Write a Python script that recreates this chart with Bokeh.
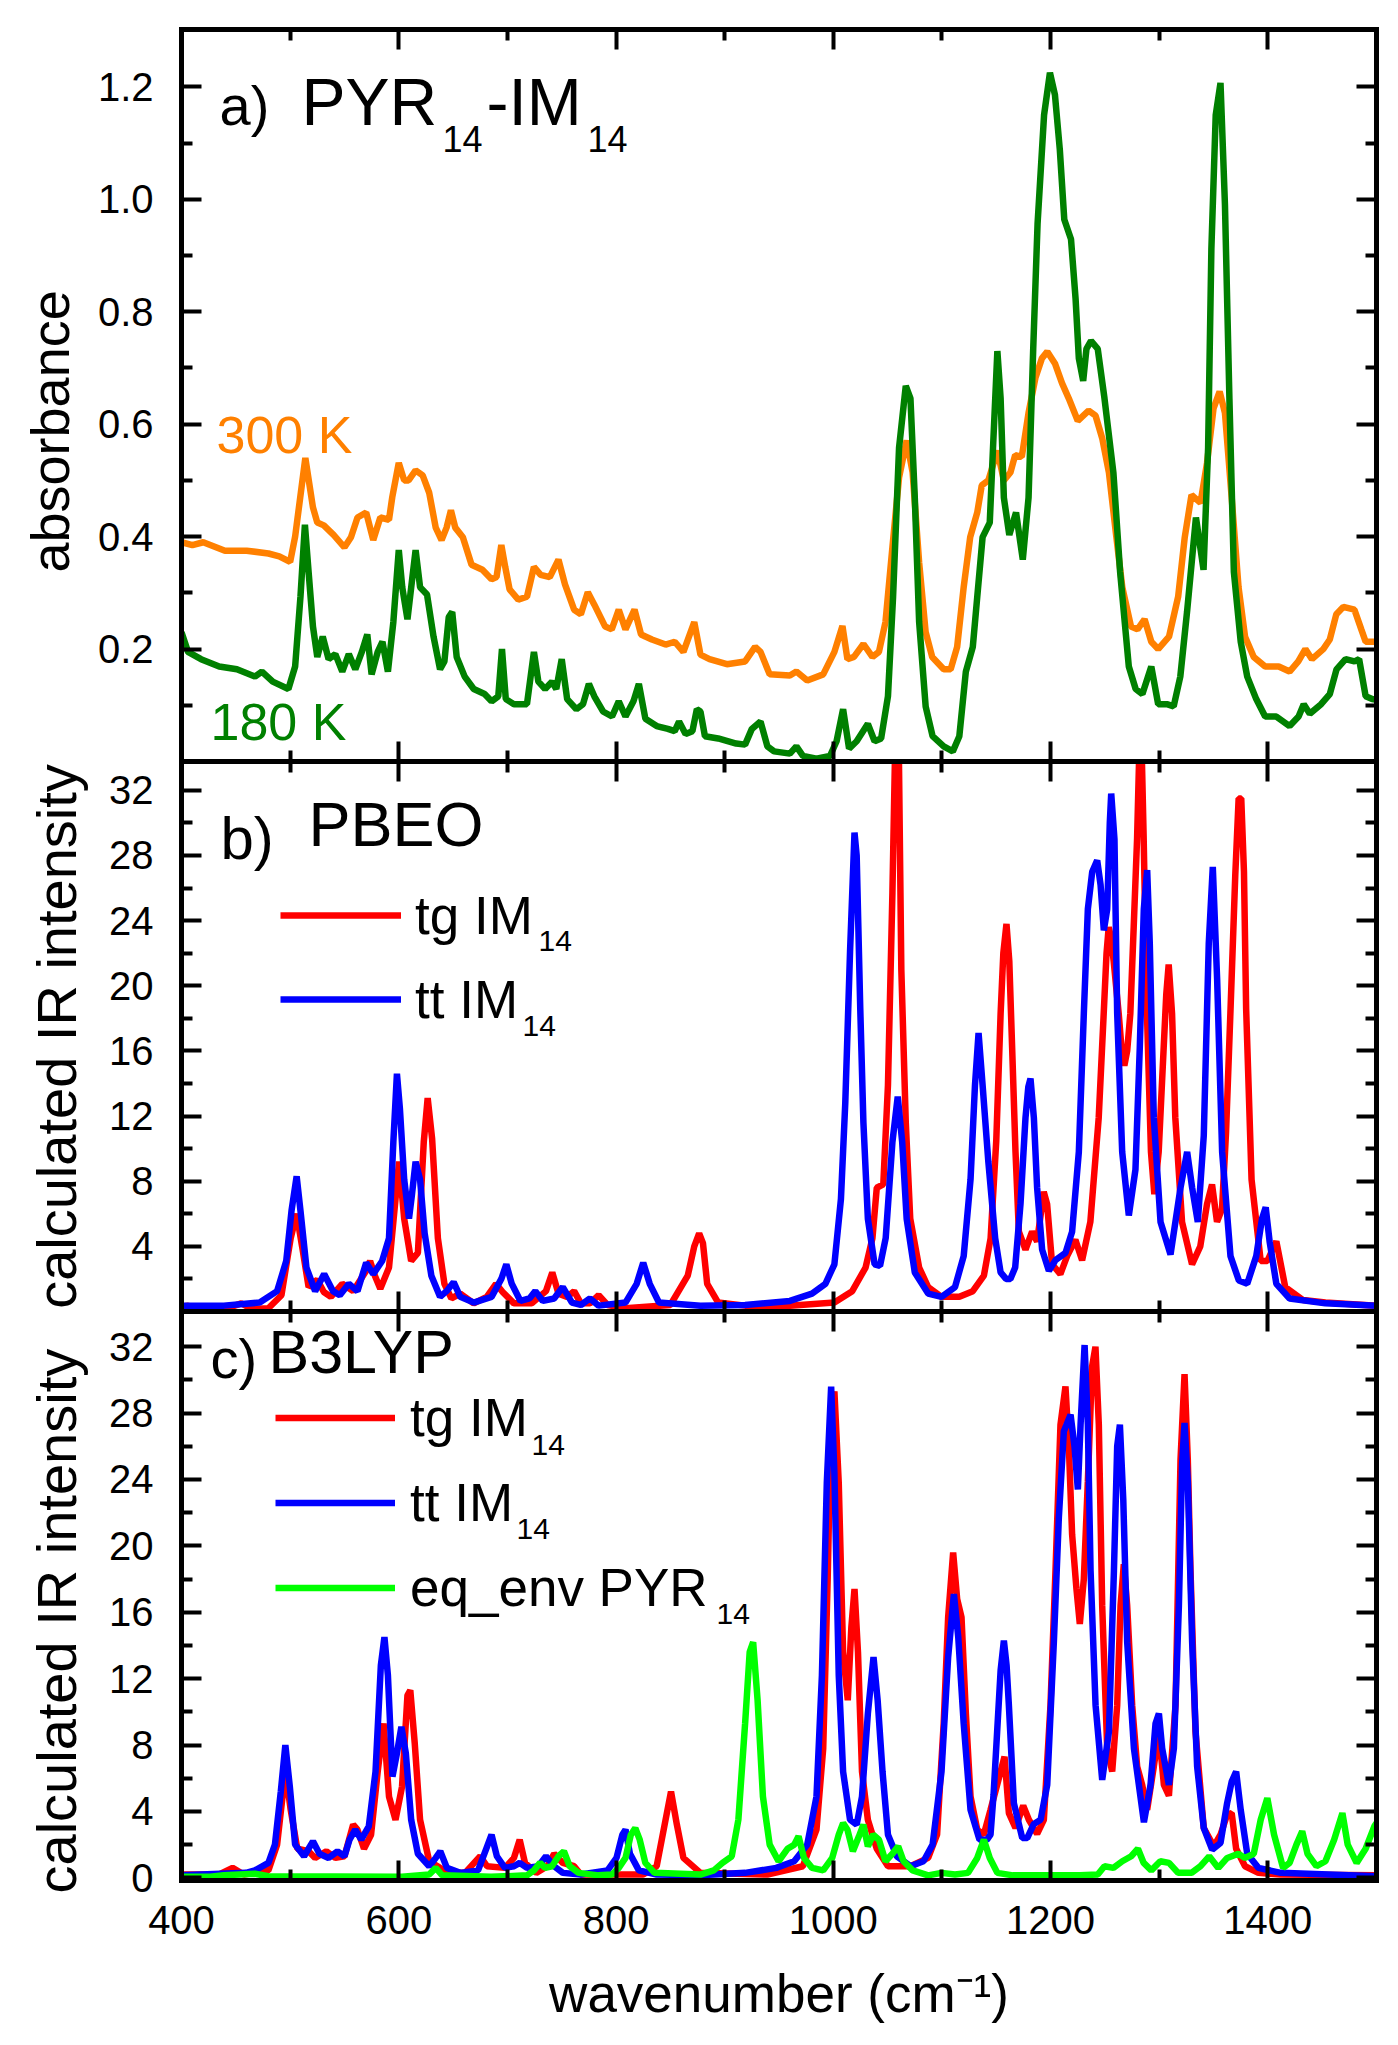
import numpy as np
from bokeh.plotting import figure
from bokeh.layouts import column
from bokeh.models import (Range1d, LinearAxis, FixedTicker, PrintfTickFormatter,
                          CustomJSTickFormatter, Label, Legend, LegendItem, Title)
from bokeh.embed import file_html
from bokeh.resources import INLINE

# ---------------------------------------------------------------- data
# panel a : measured absorbance
wn_300K = [400, 410, 420, 440, 460, 480, 490, 500, 504.6, 514, 521, 525, 531, 540, 550, 556, 562, 570,
           576.5, 583, 591, 594, 600, 605, 609, 615.5, 622, 628, 634, 639.4, 644, 648, 652, 659, 667,
           677, 685.4, 690, 694.4, 698, 702, 710, 718, 724.4, 730.6, 739, 747, 753, 761.4, 767.6, 774,
           780, 790, 796, 802.5, 808.7, 817, 823, 833, 845.6, 854, 862, 872, 877.7, 886, 902, 918.8, 928,
           933, 941.4, 960, 966, 976, 990.7, 1001, 1008.4, 1013, 1019, 1027.7, 1036, 1042, 1048, 1054.4,
           1060.5, 1067.5, 1073, 1079, 1085, 1091, 1101.6, 1108, 1114, 1120, 1126, 1132.5, 1136.6,
           1142.7, 1151, 1157, 1163, 1167.4, 1173.5, 1179.7, 1186, 1192, 1197, 1204, 1210.5, 1216.7,
           1225, 1235, 1241.4, 1247.5, 1253.7, 1260, 1266, 1274, 1280, 1286.5, 1292.7, 1299, 1309,
           1317.4, 1323.5, 1329.7, 1338, 1344, 1350, 1355.6, 1360.5, 1366.7, 1373, 1379, 1387, 1397.5,
           1410, 1420, 1428, 1434.5, 1440.6, 1451, 1457, 1463, 1469.4, 1479.7, 1486, 1490, 1500]
abs_300K = [.39, .385, .39, .375, .375, .37, .365, .355, .40, .54, .452, .425, .42, .403, .381, .399, .434, .443,
            .394, .434, .43, .47, .531, .50, .50, .518, .509, .478, .416, .394, .416, .447, .416, .399, .35,
            .341, .324, .328, .385, .346, .306, .288, .293, .346, .332, .328, .359, .315, .27, .262, .301,
            .279, .24, .235, .27, .235, .27, .226, .217, .208, .213, .195, .248, .19, .182, .173, .178, .204,
            .195, .155, .153, .16, .144, .155, .195, .241, .182, .186, .209, .186, .195, .248, .381,
            .505, .571, .514, .354, .23, .186, .164, .164, .204, .31, .399, .443, .491,
            .5, .553, .50, .514, .545, .542, .62, .682, .717, .729, .708, .673, .646,
            .606, .624, .615, .575, .514, .408, .31, .24, .235, .253, .213, .2, .222,
            .293, .399, .474, .46, .531, .628, .658, .62, .469, .31, .222, .186, .169,
            .169, .16, .178, .2, .182, .2, .217, .262, .275, .27, .235, .213, .213]

wn_180K = [400, 406, 418, 434.7, 451, 467.6, 474, 484, 498.4, 504.6, 509.5, 513.6, 517, 521, 525, 530, 535.4,
           541.6, 548, 554, 560, 566, 571, 575, 580.6, 585, 590, 595, 600, 603.2, 608, 612, 615.5, 619.6,
           626, 632, 638, 642, 646, 649.2, 653.3, 660.7, 669, 679, 685.4, 691.6, 695, 698.5, 706, 718,
           724.4, 728.5, 734.7, 741, 745, 750, 755, 763.5, 769.6, 775, 780, 788, 796.3, 802.5, 808.7, 816,
           821, 827, 837.4, 847.7, 854, 858, 864, 870.3, 874.4, 877.7, 881.8, 894, 910.6, 918.8, 925, 933,
           939.3, 945.5, 960, 966, 972, 984.5, 997, 1003, 1009, 1014.5, 1021.5, 1031.8, 1038, 1044,
           1050.3, 1055, 1060.5, 1066.7, 1071, 1075, 1079, 1085, 1091.4, 1101.6, 1110, 1116, 1122,
           1128.4, 1132.5, 1137.4, 1144, 1147, 1151, 1154, 1157, 1162, 1168.2, 1174.4, 1179.7, 1184,
           1188, 1194, 1199.4, 1204, 1208.5, 1212.6, 1218.8, 1223, 1226, 1230, 1233, 1237.2, 1243.4,
           1249.6, 1257.8, 1264, 1272, 1278.3, 1284.5, 1292.7, 1299, 1307, 1313.3, 1319.4, 1325.6,
           1333.8, 1340.8, 1345, 1348, 1352, 1356.4, 1360.5, 1364.6, 1368.7, 1375, 1381, 1389.3,
           1397.5, 1407.8, 1420, 1428.3, 1433, 1438.6, 1449, 1457, 1463.2, 1471.5, 1479.7, 1484, 1490,
           1496, 1500]
abs_180K = [.23, .195, .182, .169, .164, .151, .16, .142, .129, .169, .293, .421, .337, .24, .186, .222, .182,
            .191, .16, .191, .164, .195, .226, .155, .195, .213, .16, .248, .376, .31, .253, .319, .376, .31,
            .297, .222, .164, .178, .257, .266, .186, .151, .129, .12, .107, .116, .2, .111, .102, .102,
            .195, .142, .129, .142, .129, .182, .111, .093, .102, .138, .116, .089, .08, .107, .08, .107,
            .138, .076, .063, .058, .054, .071, .049, .054, .093, .089, .045, .041, .032, .03, .058, .071,
            .027, .018, .014, .027, .01, .005, .01, .036, .093, .023, .036, .067, .036, .041,
            .116, .293, .558, .668, .646, .469, .248, .098, .045, .027, .018, .045, .16,
            .204, .293, .399, .425, .558, .73, .646, .469, .403, .443, .359, .469, .734,
            .956, 1.15, 1.225, 1.186, 1.088, .964, .929, .823, .717, .677, .734, .748, .734,
            .646, .514, .337, .169, .129, .12, .169, .102, .102, .098, .151, .266,
            .434, .341, .558, .911, 1.15, 1.207, .99, .646, .337, .213, .151, .111,
            .08, .08, .063, .08, .102, .085, .102, .12, .164, .182, .178, .182, .116,
            .111, .11]

# panel b : PBEO calculated spectra
wn_pbeo_tg = [400, 406, 415, 440, 455, 465, 480, 492, 500.5, 506, 511, 517, 525, 531, 537.5, 548, 558, 570,
              573.6, 578, 583, 591, 597, 600.3, 605, 611.4, 617.6, 623, 626.6, 630.7, 636, 642, 648.4,
              656.6, 669, 681, 689.5, 695.6, 706, 722.4, 735.5, 741.3, 747, 755, 761.4, 767.6, 776, 784,
              792.2, 808.7, 850, 866, 872, 876.5, 880, 883.9, 894, 918.8, 960, 1001, 1017.4, 1029.7,
              1036, 1040, 1046, 1050.3, 1054.4, 1057.3, 1059.7, 1062.6, 1066.7, 1070.8, 1079, 1087.3,
              1099.6, 1116, 1128.4, 1138.6, 1144.8,
              1150, 1154, 1156.5, 1159.4, 1162, 1164.6, 1167.7, 1170.8, 1176.9, 1183,
              1187.6, 1191, 1193.7, 1196.8, 1201.4, 1209, 1215.2, 1222.8, 1229, 1236.6,
              1244.3, 1248.9, 1251.5, 1253.5, 1255.5, 1258.1, 1262.7, 1265.5, 1267.9, 1270.5,
              1273.4, 1276.5, 1279.6, 1281.5, 1282.6, 1284, 1285.7, 1288.7, 1292.4, 1295.5,
              1299.5, 1304.1, 1306.5, 1308.7, 1311.8, 1314.8, 1321, 1330.2, 1337.8, 1344,
              1348.6, 1353.2, 1357.8, 1361.5, 1365.5, 1370, 1373.1, 1375.5, 1378, 1380,
              1385, 1393.4, 1399.5, 1407.8, 1416, 1432.4, 1453, 1500]
int_pbeo_tg = [.3, .35, .15, .15, .5, .15, .2, 1.0, 4.5, 6.0, 4.0, 1.5, 1.95, 1.2, .9, 1.7, 1.25, 2.5,
               3.1, 2.2, 1.4, 2.7, 6.9, 9.2, 5.7, 3.1, 3.6, 10.4, 13.1, 10.6, 4.5, 1.7, .8,
               1.1, .5, .9, 1.7, 1.2, .5, .5, 1.25, 2.4, 1.1, .9, 1.25, .5, .5, 1.0,
               .4, .2, .4, 2.2, 4.0, 4.8, 4.2, 1.7, .55, .36, .36, .55, 1.25, 2.7,
               4.5, 7.6, 7.8, 13.9, 25.7, 36, 38, 21, 11.6, 5.7, 2.7, 1.5,
               .9, .9, 1.25, 2.2, 4.5,
               10.5, 18.3, 22, 23.8, 21.5, 16.2, 9.8, 4.9, 3.8, 4.9,
               4.3, 6.0, 7.35, 6.6, 2.9, 2.3, 3.4, 4.4, 3.15, 5.5,
               11.9, 18.3, 22, 23.6, 23, 21.5, 18.3, 16, 15.1, 16,
               18.3, 23.6, 29, 34, 36, 34, 29, 18.3, 9.8, 7.2,
               9.8, 16.2, 19.5, 21.3, 18.3, 11.9, 5.5, 2.9, 4.0, 6.6,
               7.8, 5.5, 6.3, 11, 18.3, 26.8, 31.5, 31.5, 27, 18.6,
               8.1, 3.1, 3.1, 4.3, 1.5, .7, .55, .36]

wn_pbeo_tt = [400, 439, 472, 488, 496.4, 501.3, 506, 509.5, 515, 523, 531.3, 539.5, 545.7, 554, 562, 570,
              576.5, 584.7, 591, 595, 598.3, 601, 605, 609.4, 612, 615.5, 619.6, 623.8, 630, 638, 644,
              650.5, 656.6, 669, 685.4, 694.4, 699, 704, 712, 720.3, 725.7, 732.6, 743, 751, 759.4,
              767.6, 776, 784, 808.7, 819, 825, 831, 839.5, 877.7, 918.8, 960, 980.4, 992.7, 1001, 1007,
              1011, 1015.4, 1019.5, 1021.5, 1024.8, 1027.7, 1031.8, 1038, 1043, 1048.2, 1054.4, 1059.3,
              1063.4, 1067.5, 1075, 1087.3, 1099.6, 1112, 1120, 1126.3, 1130.4, 1133.7, 1137.4, 1142.7,
              1149, 1154, 1159, 1163, 1167.4, 1172.3, 1176.9, 1179.5, 1181.5, 1184.6,
              1187.6, 1192.2, 1198.4, 1204.5, 1213.7, 1219.8, 1226, 1230.6, 1234.3, 1238.3,
              1242.9, 1246, 1249, 1252.1, 1254.5, 1255.8, 1258.8, 1261.3, 1265.9, 1272,
              1278.1, 1282.1, 1285.8, 1288.9, 1291.3, 1295, 1301.2, 1310.4, 1319.6, 1325.7,
              1330.3, 1335.5, 1341, 1345.6, 1349.3, 1353.3, 1357.9, 1365.6, 1373.3, 1381,
              1389.3, 1394.6, 1398, 1401.6, 1407.8, 1420, 1453, 1500]
int_pbeo_tt = [.36, .36, .55, 1.25, 3.1, 6.2, 8.3, 6.2, 2.7, 1.25, 2.3, 1.25, 1.0, 1.7, 1.25, 3.0,
               2.3, 3.1, 4.5, 10.4, 14.6, 12.5, 8.1, 5.7, 7.1, 9.2, 8.1, 4.8, 2.2, .9, 1.25,
               1.8, .9, .55, .9, 2.0, 2.9, 1.7, .65, .8, 1.25, .65, .8, 1.5, .55,
               .4, .8, .36, .55, 1.7, 3.0, 1.7, .55, .36, .4, .65, 1.1, 1.7, 2.9, 6.9,
               12.8, 22.1, 29.4, 28.0, 18.6, 11.6, 5.7, 2.9, 2.8, 4.5, 10.4, 13.2,
               10.4, 5.7, 2.4, 1.1, .9, 1.5, 3.4, 8.1, 13.9, 17.1, 13.9, 9.2,
               4.5, 2.4, 2.0, 2.0, 2.7, 6.6, 11.9, 13.8, 14.3, 11.9,
               7.6, 3.8, 2.5, 3.15, 3.6, 4.9, 9.8, 18.3, 24.7, 27.0,
               27.7, 26.2, 23.4, 24.7, 30, 31.8, 29.0, 18.3, 9.8, 5.9,
               8.7, 16.2, 24.7, 27.1, 22.6, 11.9, 5.5, 3.5, 7.6, 9.8,
               7.6, 5.5, 10.8, 22.6, 27.3, 20.4, 9.8, 3.4, 1.9, 1.7,
               3.4, 5.7, 6.4, 4.3, 1.7, .8, .5, .36]

# panel c : B3LYP calculated spectra
wn_b3_tg = [400, 434.7, 447, 457.3, 480, 488, 493, 496.4, 500.5, 506.6, 517, 523, 533.4, 541.6, 550, 558,
            562, 568, 574.5, 580.6, 586, 591, 597, 603, 608, 610.6, 614.7, 619.6, 628, 638, 648.4, 661,
            675, 681.3, 697.7, 706, 711.3, 716.2, 726.5, 736.7, 743, 751, 761.4, 767.6, 808.7, 825,
            837.4, 845.6, 850.6, 856, 862, 877.7, 939.3, 972, 984.5, 990.7, 994.8, 998, 1001, 1005,
            1009, 1013.3, 1016.6, 1019.5, 1022.7, 1026.4, 1031.8, 1040, 1050.3, 1071, 1087.3, 1095.5,
            1101.6, 1105.7, 1110.3, 1114, 1118, 1122, 1126.3, 1132.5,
            1138.5, 1144.7, 1150.8, 1157.6, 1161.6, 1167.7, 1174.8, 1180, 1187.6, 1193.8,
            1199.9, 1204.5, 1209.1, 1213.7, 1216.8, 1219.8, 1223.8, 1226.9, 1230.6, 1234.3,
            1238.2, 1241.3, 1244.4, 1247.5, 1252.1, 1256.7, 1261.3, 1264.4, 1267.4, 1270.5,
            1275.1, 1279.7, 1284.3, 1288.9, 1295, 1299.7, 1304.3, 1308.9, 1315, 1319.6,
            1323.3, 1326.3, 1328.8, 1333.4, 1341, 1350.2, 1356.4, 1362.5, 1366.7, 1370.8,
            1379, 1391.3, 1411.9, 1500]
int_b3_tg = [.2, .2, .6, .2, .45, 2.0, 4.9, 6.1, 4.1, 1.75, 1.6, 1.2, 1.6, 1.2, 1.3, 3.2,
             2.9, 1.75, 2.6, 6.4, 9.3, 4.9, 3.5, 5.5, 11.0, 11.3, 8.1, 3.5, 1.0, .6, .3, .3,
             1.3, .7, .6, 1.2, 2.3, .9, .3, .7, 1.45, .9, .7, .2, .2, .2,
             .7, 3.5, 5.2, 3.2, 1.2, .3, .2, .7, 2.9, 7.8, 18, 28.1, 29.3, 23.8,
             13.6, 10.7, 15.1, 17.4, 13.6, 6.4, 3.5, 1.75, .7, .7, 1.2, 2.6,
             9.3, 15.7, 19.6, 16.8, 15.7, 9.9, 4.9, 2.9,
             2.6, 4.1, 5.6, 7.3, 3.9, 3.0, 4.35, 3.5, 2.65, 3.5,
             10.4, 18.5, 27.3, 29.6, 26, 20.7, 17.4, 15.3, 18.0, 23.9,
             30.8, 32.0, 27.3, 16.4, 7.8, 6.4, 10.4, 16.4, 18.9, 16.4,
             10.4, 6.7, 5.6, 4.1, 6.7, 8.8, 5.6, 4.95, 10.4, 25.2,
             30.35, 25.2, 18.5, 8.8, 3.0, 1.9, 2.6, 3.8, 3.9, 1.75,
             .7, .3, .2, .15]

wn_b3_tt = [400, 459.4, 467.6, 480, 486, 491.4, 495.6, 499.7, 504.6, 512.8, 521, 527, 535.4, 543.6, 550,
            554.7, 560, 565.4, 572.4, 578.6, 583.5, 586.8, 590, 594.2, 598.3, 602.4, 606.5, 611.4, 617.6,
            628, 634, 638.2, 644.3, 656.6, 673, 680.5, 685.4, 690.3, 697.7, 706, 711.3, 718, 728.5,
            735.5, 743, 751, 767.6, 792.2, 800.4, 805.8, 808.7, 812.8, 821, 837.4, 877.7, 918.8, 947.5,
            964, 976, 984.5, 989.5, 994, 998, 1001, 1005, 1009, 1015.4, 1021.5, 1026.4, 1031.8, 1037,
            1040.8, 1045.3, 1050.3, 1058.5, 1071, 1083, 1091.4, 1099.6, 1105.7, 1111, 1115, 1120,
            1126.3, 1134.5,
            1141.5, 1144.7, 1147.5, 1150.8, 1154, 1157, 1159.5, 1161.6, 1166.2, 1173.9,
            1178.5, 1184.6, 1190.8, 1196.9, 1203, 1207.6, 1212.2, 1218.4, 1222, 1225.1,
            1227.6, 1231.3, 1234.3, 1236.8, 1241.4, 1247.5, 1253.7, 1258.3, 1261.3, 1263.8,
            1266.9, 1270.5, 1276.7, 1285.9, 1292, 1296.6, 1299.7, 1302.7, 1308.9, 1313.5,
            1318.1, 1321.1, 1323.3, 1326.3, 1330.3, 1334.9, 1341, 1348.7, 1356.4, 1362.5,
            1366.7, 1370.8, 1375, 1381, 1391.3, 1411.9, 1500]
int_b3_tt = [.15, .3, .45, .9, 2.0, 5.2, 8.0, 5.5, 2.0, 1.3, 2.2, 1.45, 1.2, 1.6, 1.3,
             2.3, 2.9, 2.3, 3.1, 6.4, 12.8, 14.5, 12.2, 6.1, 7.5, 9.1, 7.5, 3.5, 1.45,
             .7, 1.2, 1.6, .6, .3, .45, 1.75, 2.6, 1.3, .6, .7, .9, .6, .7,
             1.3, .7, .3, .2, .45, 1.2, 2.6, 2.9, 1.45, .45, .2, .15, .3, .6,
             1.0, 2.0, 4.9, 12.2, 23.8, 29.6, 24.4, 12.2, 6.4, 3.5, 3.2, 4.9, 9.9, 13.3,
             10.7, 6.4, 2.6, 1.3, .7, 1.0, 2.0, 6.4, 13.3, 17.1, 14.5, 9.3,
             4.1, 2.3,
             2.3, 2.6, 5, 8.8, 12.5, 14.3, 12.8, 10.4, 4.5, 2.4,
             2.4, 3.25, 3.5, 5.6, 14.2, 21.7, 26.9, 27.9, 26, 23.4,
             27.3, 32.1, 27.3, 18.5, 10.4, 5.9, 8.8, 18.5, 26, 27.3,
             22.8, 14.2, 7.8, 3.35, 5.6, 9.3, 9.9, 7.8, 5.6, 7.8,
             16.4, 25, 27.4, 23.9, 14.2, 6.7, 3.0, 1.7, 2.1, 4.5,
             5.8, 6.4, 4.1, 1.45, .6, .3, .1]

wn_b3_pyr = [400, 426.5, 439, 467.6, 480, 603, 628, 634, 640, 685, 718, 724.4, 730, 734.7, 741, 747, 752,
             757.3, 765.5, 784, 796.3, 802.5, 808.7, 813.6, 817.7, 821.8, 827, 835.4, 877.7, 890, 898,
             906.5, 912.6, 918.8, 923, 926.2, 930.3, 935.2, 941.4, 949.6, 957.8, 964, 968, 973, 980.4,
             990.7, 999, 1005, 1009, 1013, 1018, 1023.6, 1027.7, 1031.8, 1036.7, 1042, 1048, 1054.4,
             1059.7, 1064.7, 1073, 1087.3, 1099.6, 1112, 1124, 1132.5, 1138.6, 1144, 1151, 1165.3,
             1227, 1243.4, 1249.6, 1257.8, 1266, 1274.2, 1280.4, 1285.7, 1292.7, 1301, 1309, 1317.4,
             1329.7, 1338, 1346, 1354.4, 1362.6, 1372.8, 1379, 1387, 1393.4, 1399.5, 1405.7, 1414,
             1420, 1426.3, 1431.6, 1436.5, 1444.7, 1453, 1461, 1468.6, 1473.5, 1481.7, 1490, 1498, 1500]
int_b3_pyr = [.06, .06, .15, .25, .1, .06, .2, .6, .15, .06, .15, .45, .9, .6, .7, 1.3, 1.6,
              .7, .3, .15, .2, .6, 1.2, 2.6, 3.0, 2.3, .9, .3, .2, .45, .9,
              1.3, 3.5, 9.3, 13.6, 14.2, 10.7, 4.9, 2.0, 1.0, 1.75, 2.0, 2.5, 1.2, .6,
              .45, 1.2, 2.6, 3.3, 2.9, 1.6, 2.5, 3.2, 1.9, 2.6, 2.3, 1.0, 1.45,
              1.9, 1.0, .45, .15, .3, .2, .3, 1.2, 2.3, 1.2, .3, .15,
              .15, .2, .7, .6, 1.0, 1.3, 1.75, .9, .45, 1.0, .9, .3,
              .3, .7, 1.3, .6, 1.2, 1.45, 1.2, 1.45, 3.5, 4.8, 2.6, .6,
              .9, 2.0, 2.8, 1.45, .7, 1.0, 2.3, 3.9, 2.0, .9, 1.75, 3.1, 3.3]

x_ticks = [400, 600, 800, 1000, 1200, 1400]
x_minor = [500, 700, 900, 1100, 1300, 1500]
a_ticks = [0.2, 0.4, 0.6, 0.8, 1.0, 1.2]
a_minor = [0.1, 0.3, 0.5, 0.7, 0.9, 1.1]
b_ticks = [4, 8, 12, 16, 20, 24, 28, 32]
c_ticks = [0, 4, 8, 12, 16, 20, 24, 28, 32]
bc_minor = [2, 6, 10, 14, 18, 22, 26, 30]

# ---------------------------------------------------------------- layout
FONT = "Liberation Sans"
FL, FR = 181, 1376          # frame left / right (page px)
X0, X1 = 400, 1500
PANEL_A = (29, 761, 0.0, 1.302)
PANEL_B = (761, 1311, 0.0, 33.77)
PANEL_C = (1311, 1880, -0.16, 34.12)
ORANGE, DGREEN = "#FF8000", "#008000"
RED, BLUE, LGREEN = "#FF0000", "#0000FF", "#00FF00"
LW = 6.5
BASE_SHIFT = 0.37           # label baseline correction (fraction of font size)


def dx(px):
    return X0 + (px - FL) * (X1 - X0) / (FR - FL)


def dy(panel, py):
    T, B, y0, y1 = panel
    return y0 + (B - py) / (B - T) * (y1 - y0)


blank = CustomJSTickFormatter(code="return ''")


def style_axis(ax, ticks, minor, labels, fmt=None, standoff=0):
    ax.ticker = FixedTicker(ticks=ticks, minor_ticks=minor)
    ax.axis_line_width = 5
    ax.axis_line_cap = "square"
    ax.major_tick_line_width = 4
    ax.minor_tick_line_width = 4
    ax.major_tick_in = 20
    ax.major_tick_out = 0
    ax.minor_tick_in = 11
    ax.minor_tick_out = 0
    if labels:
        if fmt is not None:
            ax.formatter = fmt
        ax.major_label_text_font = FONT
        ax.major_label_text_font_size = "40px"
        ax.major_label_text_color = "black"
        ax.major_label_standoff = standoff
    else:
        ax.formatter = blank
        ax.major_label_text_font_size = "0px"
        ax.major_label_standoff = 0


def make_panel(panel, top_b, bot_b, yticks, yminor, yfmt, xlabels):
    T, B, y0, y1 = panel
    p = figure(frame_width=FR - FL, frame_height=B - T,
               min_border_left=FL, min_border_right=16,
               min_border_top=top_b, min_border_bottom=bot_b,
               x_range=Range1d(X0, X1), y_range=Range1d(y0, y1),
               toolbar_location=None, output_backend="svg",
               x_axis_location=None, y_axis_location=None,
               background_fill_color="white", border_fill_color="white",
               outline_line_color=None)
    p.grid.visible = False
    left = LinearAxis()
    style_axis(left, yticks, yminor, True, yfmt, 28)
    right = LinearAxis()
    style_axis(right, yticks, yminor, False)
    top = LinearAxis()
    style_axis(top, x_ticks, x_minor, False)
    bottom = LinearAxis()
    style_axis(bottom, x_ticks, x_minor, xlabels, None, 25)
    p.add_layout(left, "left")
    p.add_layout(right, "right")
    p.add_layout(top, "above")
    p.add_layout(bottom, "below")
    return p, bottom


def text(p, panel, px, py, s, size, color="black"):
    p.add_layout(Label(x=dx(px), y=dy(panel, py - BASE_SHIFT * size), text=s, text_font=FONT,
                       text_font_size=f"{size}px", text_color=color,
                       text_align="left", text_baseline="alphabetic"))


def side_title(p, s, size, align, offset, standoff):
    p.add_layout(Title(text=s, align=align, offset=offset, standoff=standoff,
                       text_font=FONT, text_font_size=f"{size}px",
                       text_font_style="normal", text_color="black"), "left")


def legend(items, loc, gw, gh, standoff):
    return Legend(items=items, location=loc, glyph_width=gw, glyph_height=gh,
                  label_standoff=standoff, spacing=0, padding=0, margin=0,
                  border_line_alpha=0, background_fill_alpha=0,
                  label_text_font=FONT, label_text_font_size="53px",
                  label_text_color="black", label_text_baseline="middle")


# ---------------- panel a
pa, _ = make_panel(PANEL_A, 29, 0, a_ticks, a_minor, PrintfTickFormatter(format="%.1f"), False)
pa.line(wn_300K, abs_300K, line_color=ORANGE, line_width=LW)
pa.line(wn_180K, abs_180K, line_color=DGREEN, line_width=LW)
text(pa, PANEL_A, 219, 126, "a)", 56)
text(pa, PANEL_A, 301, 126, "PYR", 66)
text(pa, PANEL_A, 442, 152, "14", 36)
text(pa, PANEL_A, 486, 126, "-IM", 66)
text(pa, PANEL_A, 587, 152, "14", 36)
text(pa, PANEL_A, 216, 454, "300 K", 52, ORANGE)
text(pa, PANEL_A, 210, 741, "180 K", 52, DGREEN)
side_title(pa, "absorbance", 54, "left", 189, 29)

# ---------------- panel b
pb, _ = make_panel(PANEL_B, 0, 0, b_ticks, bc_minor, None, False)
rb_tg = pb.line(wn_pbeo_tg, int_pbeo_tg, line_color=RED, line_width=LW)
rb_tt = pb.line(wn_pbeo_tt, int_pbeo_tt, line_color=BLUE, line_width=LW)
text(pb, PANEL_B, 220, 860, "b)", 60)
text(pb, PANEL_B, 308, 847, "PBEO", 63)
pb.add_layout(legend([LegendItem(label="tg IM", renderers=[rb_tg]),
                      LegendItem(label="tt IM", renderers=[rb_tt])],
                     (99, 270), 121, 84, 14))
text(pb, PANEL_B, 538, 952, "14", 30)
text(pb, PANEL_B, 522, 1037, "14", 30)
side_title(pb, "calculated IR intensity", 56, "center", 0, 37)

# ---------------- panel c
pc, pc_bottom = make_panel(PANEL_C, 0, 155, c_ticks, bc_minor, None, True)
rc_tg = pc.line(wn_b3_tg, int_b3_tg, line_color=RED, line_width=LW)
rc_tt = pc.line(wn_b3_tt, int_b3_tt, line_color=BLUE, line_width=LW)
rc_pyr = pc.line(wn_b3_pyr, int_b3_pyr, line_color=LGREEN, line_width=LW)
text(pc, PANEL_C, 210, 1379, "c)", 56)
text(pc, PANEL_C, 268, 1374, "B3LYP", 61)
pc.add_layout(legend([LegendItem(label="tg IM", renderers=[rc_tg]),
                      LegendItem(label="tt IM", renderers=[rc_tt]),
                      LegendItem(label="eq_env PYR", renderers=[rc_pyr])],
                     (94, 250), 120, 85, 15))
text(pc, PANEL_C, 531, 1456, "14", 30)
text(pc, PANEL_C, 516, 1540, "14", 30)
text(pc, PANEL_C, 716, 1625, "14", 30)
side_title(pc, "calculated IR intensity", 56, "left", -13, 37)
pc_bottom.axis_label = "wavenumber (cm\u207b\u00b9)"
pc_bottom.axis_label_text_font = FONT
pc_bottom.axis_label_text_font_size = "53px"
pc_bottom.axis_label_text_font_style = "normal"
pc_bottom.axis_label_text_color = "black"
pc_bottom.axis_label_standoff = 27

layout = column(pa, pb, pc)
open("out.html", "w").write(file_html(layout, INLINE, title="IR spectra"))
